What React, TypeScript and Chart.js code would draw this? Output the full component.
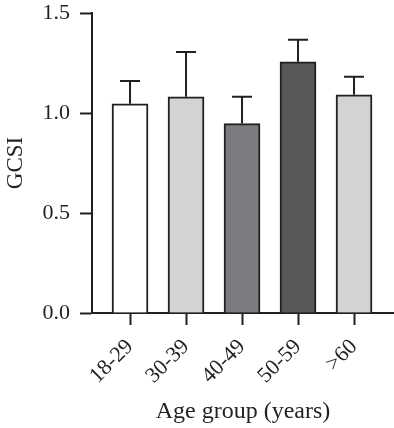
import React, { useEffect, useRef } from "react";
import { Chart, registerables } from "chart.js";

Chart.register(...registerables);

const categories = ["18-29", "30-39", "40-49", "50-59", ">60"];
const means = [1.046, 1.081, 0.947, 1.256, 1.091];
const upperErrors = [1.16, 1.305, 1.081, 1.366, 1.181];
const fills = ["#ffffff", "#d3d3d4", "#7b7c7f", "#58585a", "#d3d3d4"];
const yTicks = [0, 0.5, 1.0, 1.5];

const INK = "#231f20";
const FONT = "'Liberation Serif', 'DejaVu Serif', serif";

const errorBarPlugin = {
  id: "errorBars",
  afterDatasetsDraw(chart: any) {
    const { ctx, scales } = chart;
    const meta = chart.getDatasetMeta(0);
    ctx.save();
    ctx.strokeStyle = INK;
    ctx.lineWidth = 2;
    meta.data.forEach((bar: any, i: number) => {
      const x = bar.x;
      const yTop = scales.y.getPixelForValue(upperErrors[i]);
      const yBase = scales.y.getPixelForValue(means[i]);
      ctx.beginPath();
      ctx.moveTo(x, yBase);
      ctx.lineTo(x, yTop);
      ctx.moveTo(x - 10, yTop);
      ctx.lineTo(x + 10, yTop);
      ctx.stroke();
    });
    ctx.restore();
  },
};

export default function App() {
  const ref = useRef<HTMLCanvasElement | null>(null);
  useEffect(() => {
    document.body.style.margin = "0";
    const chart = new Chart(ref.current as HTMLCanvasElement, {
      type: "bar",
      data: {
        datasets: [
          {
            data: means.map((v, i) => ({ x: i, y: v })),
            backgroundColor: fills,
            borderColor: INK,
            borderWidth: 2,
            borderSkipped: "bottom",
            barThickness: 36,
          },
        ],
      },
      options: {
        responsive: false,
        animation: false,
        layout: { padding: { top: 13, right: 0, left: 0, bottom: 0 } },
        plugins: { legend: { display: false }, tooltip: { enabled: false } },
        scales: {
          x: {
            type: "linear",
            offset: false,
            min: -0.679,
            max: 4.714,
            afterBuildTicks: (scale: any) => {
              scale.ticks = categories.map((_, i) => ({ value: i }));
            },
            afterFit: (scale: any) => {
              scale.height = 115;
              scale.paddingLeft = 0;
              scale.paddingRight = 0;
            },
            ticks: {
              callback: (v: any) => categories[v] ?? "",
              maxRotation: 45,
              minRotation: 45,
              color: INK,
              padding: 9,
              font: { family: FONT, size: 22 },
            },
            grid: {
              offset: false,
              display: true,
              drawOnChartArea: false,
              drawTicks: true,
              tickLength: 12,
              tickWidth: 2,
              tickColor: INK,
              color: INK,
            },
            border: { display: true, color: INK, width: 2 },
            title: {
              display: true,
              text: "Age group (years)",
              color: INK,
              font: { family: FONT, size: 24 },
              padding: { top: 0, bottom: 2 },
            },
          },
          y: {
            min: 0,
            max: 1.5,
            afterBuildTicks: (scale: any) => {
              scale.ticks = yTicks.map((v) => ({ value: v }));
            },
            afterFit: (scale: any) => {
              scale.width = 92;
              scale.paddingTop = 0;
              scale.paddingBottom = 0;
            },
            ticks: {
              callback: (v: any) => Number(v).toFixed(1),
              color: INK,
              padding: 10,
              font: { family: FONT, size: 22 },
            },
            grid: {
              drawOnChartArea: false,
              drawTicks: true,
              tickLength: 12,
              tickWidth: 2,
              tickColor: INK,
              color: INK,
            },
            border: { display: true, color: INK, width: 2 },
            title: {
              display: true,
              text: "GCSI",
              color: INK,
              font: { family: FONT, size: 23 },
              padding: { top: 2, bottom: 0 },
            },
          },
        },
      },
      plugins: [errorBarPlugin],
    } as any);
    return () => chart.destroy();
  }, []);
  return (
    <div style={{ width: 394, height: 428 }}>
      <canvas ref={ref} width={394} height={428} />
    </div>
  );
}
